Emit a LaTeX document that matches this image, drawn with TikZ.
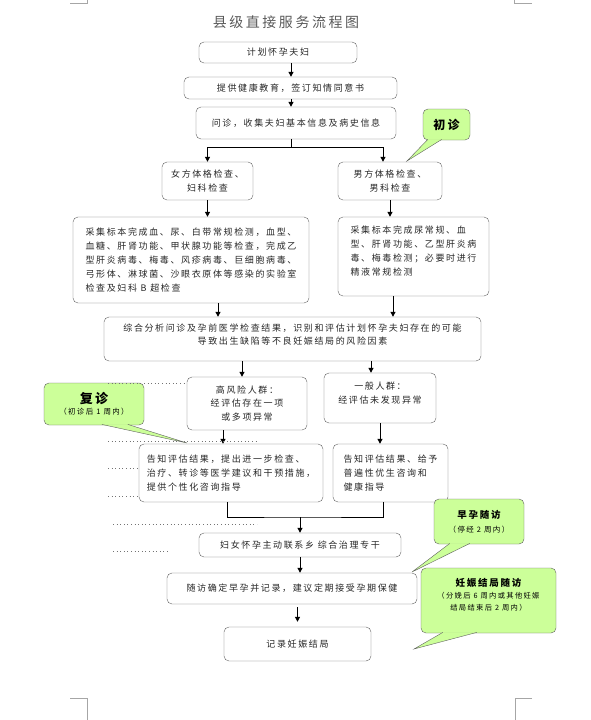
\documentclass[tikz,border=0pt]{standalone}
\usepackage{fontspec}
\setmainfont{Noto Sans CJK SC}[LetterSpace=18]
\usepackage{tikz}
\usetikzlibrary{arrows.meta}
\usetikzlibrary{positioning}
\definecolor{notegreen}{HTML}{CCFF99}
\definecolor{boxgray}{HTML}{606060}
\tikzset{-, > = {Triangle[length = 5pt, width = 5pt]},
  heading/.style = {font = \fontsize{14}{14}\selectfont, text = black!65},
  box/.style = {draw = boxgray, rounded corners = 5pt, align = center, inner sep = 2pt,
    font = \fontsize{9}{13.8}\selectfont, text = black!85},
  note/.style = {draw = boxgray, fill = notegreen, rounded corners = 5pt, align = center, inner sep = 2pt},
  tail/.style = {draw = boxgray, fill = notegreen},
  flow/.style = {->, line width = 1pt},
  leader/.style = {black!55, dash pattern = on 0.8pt off 2.8pt, line width = 0.8pt},
  crop/.style = {black!35, line width = 0.5pt}}

\begin{document}
\begin{tikzpicture}[x = 1pt, y = -1pt]
  \useasboundingbox (0,0) rectangle (591,720);
  % nodes
  \node [heading] (head) at (286,22) {县级直接服务流程图};
  \node [box, minimum width = 158, minimum height = 21] (plan) at (278,52.5) {计划怀孕夫妇};
  \node [box, minimum width = 213, minimum height = 22] (edu) at (290.5,88) {提供健康教育，签订知情同意书};
  \node [box, minimum width = 200, minimum height = 32] (ask) at (296,123) {问诊，收集夫妇基本信息及病史信息};
  \node [box, minimum width = 91, minimum height = 38] (female) at (207.5,181) {女方体格检查、\\妇科检查};
  \node [box, minimum width = 104, minimum height = 38] (male) at (390,181) {男方体格检查、\\男科检查};
  \node [box, align = left, minimum width = 236, minimum height = 86] (labf) at (191,260)
    {采集标本完成血、尿、白带常规检测，血型、\\血糖、肝肾功能、甲状腺功能等检查，完成乙\\型肝炎病毒、梅毒、风疹病毒、巨细胞病毒、\\弓形体、淋球菌、沙眼衣原体等感染的实验室\\检查及妇科 B 超检查};
  \node [box, align = left, minimum width = 151, minimum height = 79] (labm) at (413.5,256.5)
    {采集标本完成尿常规、血\\型、肝肾功能、乙型肝炎病\\毒、梅毒检测；必要时进行\\精液常规检测\\[-2pt]};
  \node [box, minimum width = 377, minimum height = 44] (assess) at (292.5,339)
    {综合分析问诊及孕前医学检查结果，识别和评估计划怀孕夫妇存在的可能\\导致出生缺陷等不良妊娠结局的风险因素\\[-4pt]};
  \node [box, minimum width = 120, minimum height = 53] (high) at (247,403.5) {高风险人群：\\经评估存在一项\\或多项异常};
  \node [box, minimum width = 112, minimum height = 50] (low) at (380,398) {一般人群：\\经评估未发现异常\\[-4pt]};
  \node [box, align = left, minimum width = 184, minimum height = 58] (advh) at (231,473)
    {告知评估结果，提出进一步检查、\\治疗、转诊等医学建议和干预措施，\\提供个性化咨询指导};
  \node [box, align = left, minimum width = 115, minimum height = 58] (advl) at (390.5,473)
    {告知评估结果、给予\\普遍性优生咨询和\\健康指导};
  \node [box, minimum width = 202, minimum height = 24] (contact) at (300,545) {妇女怀孕主动联系乡 综合治理专干};
  \node [box, minimum width = 250, minimum height = 31] (visit) at (292,588.5) {随访确定早孕并记录，建议定期接受孕期保健};
  \node [box, minimum width = 147, minimum height = 34] (record) at (297.5,644) {记录妊娠结局};
  % notes
  \node [note, minimum width = 47, minimum height = 31] (first) at (446.5,124.5)
    {\fontsize{12}{14}\selectfont\bfseries 初诊};
  \node [note, minimum width = 100, minimum height = 42] (again) at (94,404)
    {\fontsize{13}{15}\selectfont\bfseries 复诊\\[-1pt]\fontsize{7.5}{9}\selectfont（初诊后 1 周内）};
  \node [note, minimum width = 90, minimum height = 45] (early) at (479,521.5)
    {\fontsize{9.5}{12}\selectfont\bfseries 早孕随访\\[2pt]\fontsize{7.5}{9}\selectfont（停经 2 周内）};
  \node [note, minimum width = 135, minimum height = 65] (outcome) at (488.5,600.5)
    {\fontsize{9.5}{12}\selectfont\bfseries 妊娠结局随访\\\fontsize{7.3}{11}\selectfont（分娩后 6 周内或其他妊娠\\\fontsize{7.3}{11}\selectfont 结局结束后 2 周内）\\[1pt]};
  \coordinate (tip1) at (407,161);
  \coordinate (tip2) at (187,443);
  \coordinate (tip3) at (412,572);
  \coordinate (tip4) at (414,649);
  \filldraw [tail] ([xshift = 5pt, yshift = 0.8pt]first.south west) -- (tip1) -- ([xshift = 19pt, yshift = 0.8pt]first.south west);
  \filldraw [tail] ([xshift = 58pt, yshift = 0.8pt]again.south west) -- (tip2) -- ([xshift = 84pt, yshift = 0.8pt]again.south west);
  \filldraw [tail] ([xshift = 16pt, yshift = 0.8pt]early.south west) -- (tip3) -- ([xshift = 36pt, yshift = 0.8pt]early.south west);
  \filldraw [tail] ([xshift = 22pt, yshift = 0.8pt]outcome.south west) -- (tip4) -- ([xshift = 56pt, yshift = 0.8pt]outcome.south west);
  % paths
  \coordinate (stem) at (291,147);
  \coordinate (merge) at (300,517);
  \draw [flow] (plan.south -| stem) -- (edu.north -| stem);
  \draw [flow] (edu.south -| stem) -- (ask.north -| stem);
  \draw [line width = 1pt] (ask.south -| stem) -- (stem);
  \draw [flow] (stem) -| (female.north);
  \draw [flow] (stem) -| ([xshift = -7pt]male.north);
  \draw [flow] (female.south) -- (female.south |- labf.north);
  \draw [flow] (male.south) -- (male.south |- labm.north);
  \draw [flow] ([xshift = 27pt]labf.south) -- ([xshift = 27pt]labf.south |- assess.north);
  \draw [flow] ([xshift = -20.5pt]labm.south) -- ([xshift = -20.5pt]labm.south |- assess.north);
  \draw [flow] ([xshift = -5pt]high.north |- assess.south) -- ([xshift = -5pt]high.north);
  \draw [flow] ([xshift = -9pt]low.north |- assess.south) -- ([xshift = -9pt]low.north);
  \draw [flow] ([xshift = -24pt]high.south) -- ([xshift = -24pt]high.south |- advh.north);
  \draw [flow] (low.south) -- (low.south |- advl.north);
  \draw [line width = 1pt] ([xshift = -4pt]advh.south) |- (merge) -| ([xshift = -7.5pt]advl.south);
  \draw [flow] (merge) -- (contact.north);
  \draw [flow] (contact.south) -- (contact.south |- visit.north);
  \draw [flow, shorten <= 3pt, shorten >= 5pt] (visit.south -| record.north) -- (record.north);
  % leaders
  \draw [leader] (108,383) -- (187,383);
  \draw [leader] (108,441) -- (258,441);
  \draw [leader] (108,468) -- (139,468);
  \draw [leader] (108,496) -- (137,496);
  \draw [leader] (113,524) -- (257,524);
  \draw [leader] (113,551) -- (168,551);
  % page corners
  \draw [crop] (70,3) -- (87,3) -- (87,0);
  \draw [crop] (532,3) -- (514,3) -- (514,0);
  \draw [crop] (70,698) -- (87,698) -- (87,720);
  \draw [crop] (532,698) -- (515,698) -- (515,720);
\end{tikzpicture}
\end{document}
